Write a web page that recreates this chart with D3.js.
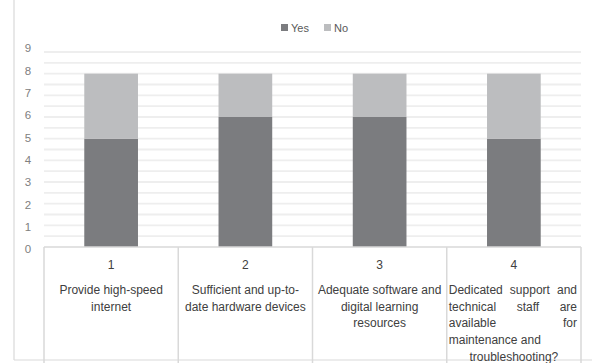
<!DOCTYPE html>
<meta charset="utf-8">
<style>
body { margin: 0; background: #fff; }
text { font-family: "Liberation Sans", Arial, sans-serif; }
.tick line { display: none; }
.domain { display: none; }
</style>
<div id="chart"></div>
<script src="https://cdn.jsdelivr.net/npm/d3@7"></script>
<script>

var categories = ["1", "2", "3", "4"];
var labels = [
  ["Provide high-speed", "internet"],
  ["Sufficient and up-to-", "date hardware devices"],
  ["Adequate software and", "digital learning", "resources"],
  ["Dedicated support and", "technical staff are", "available for", "maintenance and", "troubleshooting?"]
];
// how each line of the last cell is aligned (justified text in the source)
var align4 = ["justify", "justify", "justify", "left", "middle"];
var yes = [5, 6, 6, 5];
var no = [3, 2, 2, 3];
var yTicks = [0, 1, 2, 3, 4, 5, 6, 7, 8, 9];

var svg = d3.select("#chart").append("svg")
    .attr("width", 592)
    .attr("height", 363);

var x = d3.scaleBand()
    .domain(categories)
    .range([44, 581])
    .padding(0);

var y = d3.scaleLinear()
    .domain([0, 9])
    .range([247, 52]);

// tick labels sit a little apart from the plot in the source
var yLab = y.copy().range([249, 48]);

var colors = {Yes: "#7b7c7f", No: "#bcbdbf"};

// outer frame (left and bottom edges visible)
svg.append("line").attr("x1", 14).attr("x2", 14).attr("y1", 0).attr("y2", 360)
    .attr("stroke", "#d9d9d9").attr("stroke-width", 1.2);
svg.append("line").attr("x1", 14).attr("x2", 592).attr("y1", 360).attr("y2", 360)
    .attr("stroke", "#d9d9d9").attr("stroke-width", 1.2);

// light gridlines
svg.append("g").selectAll("line")
  .data(y.ticks(18).filter(function(d) { return d > 0; }))
  .enter().append("line")
    .attr("x1", 44)
    .attr("x2", 581)
    .attr("y1", function(d) { return y(d); })
    .attr("y2", function(d) { return y(d); })
    .attr("stroke", "#eeeeee")
    .attr("stroke-width", 1.8);

// y axis labels
var yAxis = svg.append("g")
    .attr("transform", "translate(34,0)")
    .call(d3.axisLeft(yLab).tickValues(yTicks).tickSize(0).tickPadding(0));
yAxis.selectAll("text")
    .attr("fill", "#808080")
    .style("font-size", "11.5px")
    .attr("text-anchor", "middle")
    .attr("x", -6);

// stacked bars
var data = categories.map(function(c, i) { return {cat: c, Yes: yes[i], No: no[i]}; });
var series = d3.stack().keys(["Yes", "No"])(data);
var bw = x.bandwidth() * 0.4;

svg.append("g").selectAll("g")
  .data(series)
  .enter().append("g")
    .attr("fill", function(d) { return colors[d.key]; })
  .selectAll("rect")
  .data(function(d) { return d; })
  .enter().append("rect")
    .attr("x", function(d) { return x(d.data.cat) + (x.bandwidth() - bw) / 2; })
    .attr("y", function(d) { return y(d[1]); })
    .attr("height", function(d) { return y(d[0]) - y(d[1]); })
    .attr("width", bw);

// category table
var tbl = svg.append("g");
tbl.append("line").attr("x1", 44).attr("x2", 581).attr("y1", y(0)).attr("y2", y(0))
    .attr("stroke", "#d9d9d9").attr("stroke-width", 1.5);
tbl.selectAll(".vline")
  .data(categories.map(function(c) { return x(c); }).concat([x.range()[1]]))
  .enter().append("line")
    .attr("class", "vline")
    .attr("x1", function(d) { return d; })
    .attr("x2", function(d) { return d; })
    .attr("y1", y(0))
    .attr("y2", 363)
    .attr("stroke", "#d9d9d9")
    .attr("stroke-width", 1.5);

var cell = tbl.selectAll(".cell")
  .data(categories)
  .enter().append("g")
    .attr("class", "cell")
    .attr("transform", function(d) { return "translate(" + x(d) + ",0)"; });

cell.append("text")
    .attr("x", x.bandwidth() / 2)
    .attr("y", 269)
    .attr("text-anchor", "middle")
    .attr("fill", "#404040")
    .style("font-size", "12px")
    .text(function(d) { return d; });

cell.each(function(c, i) {
  var g = d3.select(this);
  var w = x.bandwidth();
  labels[i].forEach(function(line, j) {
    var ly = 294 + j * 16.7;
    var mode = i === 3 ? align4[j] : "middle";
    if (mode === "justify") {
      var words = line.split(" ");
      var t = g.append("g");
      var nodes = words.map(function(wd) {
        return t.append("text").attr("fill", "#404040").style("font-size", "12px")
            .attr("y", ly).text(wd);
      });
      var total = 0;
      nodes.forEach(function(n) { total += n.node().getComputedTextLength(); });
      var gap = (w - 6 - total) / (words.length - 1);
      var cx = 2;
      nodes.forEach(function(n) {
        n.attr("x", cx);
        cx += n.node().getComputedTextLength() + gap;
      });
    } else {
      g.append("text")
          .attr("x", mode === "left" ? 2 : w / 2)
          .attr("y", ly)
          .attr("text-anchor", mode === "left" ? "start" : "middle")
          .attr("fill", "#404040")
          .style("font-size", "12px")
          .text(line);
    }
  });
});

// legend
var legend = svg.append("g").selectAll("g")
  .data(["Yes", "No"])
  .enter().append("g")
    .attr("transform", function(d, i) { return "translate(" + (281 + i * 43) + ",24)"; });
legend.append("rect")
    .attr("width", 7).attr("height", 7)
    .attr("fill", function(d) { return colors[d]; });
legend.append("text")
    .attr("x", 10).attr("y", 7.5)
    .attr("fill", "#595959")
    .style("font-size", "11px")
    .text(function(d) { return d; });

</script>
